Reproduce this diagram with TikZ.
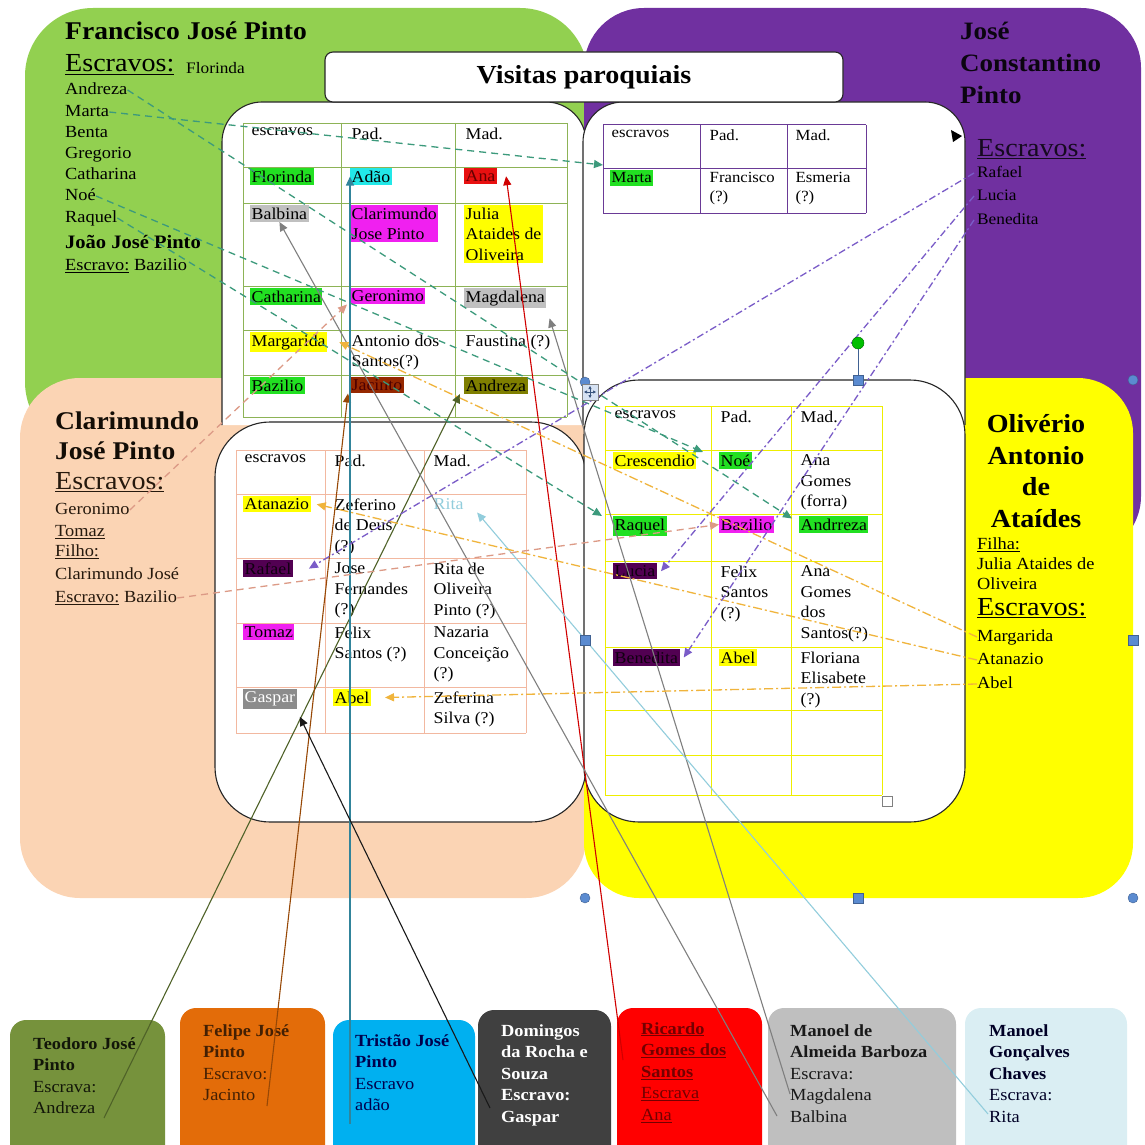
\documentclass[tikz,border=0pt]{standalone}
\usepackage{fontspec}
\setmainfont[FakeStretch=1.08]{Liberation Serif}
\usetikzlibrary{arrows.meta}

\newcommand\fsz[2]{\fontsize{#1}{#2}\selectfont}

\definecolor{bgGreen}{HTML}{92D050}
\definecolor{bgPurple}{HTML}{7030A0}
\definecolor{bgPeach}{HTML}{FBD4B4}
\definecolor{bgYellow}{HTML}{FFFF00}
\definecolor{hlGreen}{HTML}{22E022}
\definecolor{hlCyan}{HTML}{22E8E8}
\definecolor{hlRed}{HTML}{E81010}
\definecolor{hlGray}{HTML}{C0C0C0}
\definecolor{hlMagenta}{HTML}{F020F0}
\definecolor{hlYellow}{HTML}{FFFF00}
\definecolor{hlBrown}{HTML}{962800}
\definecolor{hlOlive}{HTML}{7F7F00}
\definecolor{hlPlum}{HTML}{520052}
\definecolor{hlSlate}{HTML}{8C8C8C}
\definecolor{gridGreen}{HTML}{8DB356}
\definecolor{gridPurple}{HTML}{6A3A96}
\definecolor{gridSalmon}{HTML}{F2B8A0}
\definecolor{gridYellow}{HTML}{EEEE00}
\definecolor{boxTeo}{HTML}{76923C}
\definecolor{boxFel}{HTML}{E36C09}
\definecolor{boxTri}{HTML}{00B0F0}
\definecolor{boxDom}{HTML}{404040}
\definecolor{boxRic}{HTML}{FF0000}
\definecolor{boxMab}{HTML}{BFBFBF}
\definecolor{boxMgc}{HTML}{DAEEF3}
\definecolor{lnTeo}{HTML}{4F6228}
\definecolor{lnFel}{HTML}{974806}
\definecolor{lnTri}{HTML}{31849B}
\definecolor{lnRic}{HTML}{D00000}
\definecolor{lnMab}{HTML}{7F7F7F}
\definecolor{lnMgc}{HTML}{92CDDC}
\definecolor{lnFran}{HTML}{3C9A7C}
\definecolor{lnJcp}{HTML}{7A5CC8}
\definecolor{lnOli}{HTML}{F0B43C}
\definecolor{lnClar}{HTML}{DC9A86}
\definecolor{handle}{HTML}{5B8BD0}

\begin{document}
\begin{tikzpicture}[x=1pt,y=-1pt,
  boxline/.style={draw=black!85, line width=1.1pt},
  cell/.style={anchor=north west, inner xsep=1.5pt, inner ysep=2.5pt, align=left, font=\fsz{16.5}{20.5}},
  tcell/.style={cell, font=\fsz{15.5}{19}},
  lbl/.style={anchor=west, inner sep=0pt},
  item/.style={lbl, font=\fsz{17}{20}, text height=12pt, text depth=3.5pt},
  bname/.style={lbl, font=\bfseries\fsz{25.5}{30}, text height=18pt, text depth=5pt},
  escr/.style={lbl, font=\fsz{26}{30}, text height=18pt, text depth=6pt},
  panelbox/.style={rounded corners=16},
  paneltext/.style={anchor=north west, inner sep=0pt, align=left, font=\fsz{17}{21.6}},
  tip/.style={-{Triangle[length=9pt,width=8pt]}},
  ownerline/.style={tip, line width=1.1pt},
  franline/.style={tip, lnFran, line width=1.3pt, dash pattern=on 7pt off 5pt},
  jcpline/.style={tip, lnJcp, line width=1.3pt, dash pattern=on 7pt off 3pt on 2pt off 3pt},
  oliline/.style={tip, lnOli, line width=1.3pt, dash pattern=on 9pt off 3pt on 2pt off 3pt},
  clarline/.style={tip, lnClar, line width=1.3pt, dash pattern=on 7pt off 5pt},
  hcirc/.style={circle, fill=handle, draw=handle!70!black, line width=0.4pt, minimum size=10pt, inner sep=0pt},
  hsq/.style={rectangle, fill=handle, draw=handle!70!black, line width=0.4pt, minimum size=10pt, inner sep=0pt}
]
\useasboundingbox (0,0) rectangle (1144,1145);
\clip (0,0) rectangle (1144,1145);

% ---------- owner areas ----------
\fill[bgGreen, rounded corners=68] (25,8) rectangle (588,450);
\fill[bgPurple, rounded corners=60] (584,8) rectangle (1141,556);
\fill[bgPeach, rounded corners=60] (20,378) rectangle (586,898);
\fill[bgYellow, rounded corners=55] (584,378) rectangle (1133,898);

% ---------- white record panels ----------
\fill[white] (222,425) [rounded corners=40] -- (222,102) -- (586,102) [sharp corners] -- (586,425) -- cycle;
\draw[boxline] (222,425) [rounded corners=40] -- (222,102) -- (586,102) [sharp corners] -- (586,425);
\fill[white] (583,425) [rounded corners=40] -- (583,102) -- (965,102) [sharp corners] -- (965,425) -- cycle;
\draw[boxline] (583,425) [rounded corners=40] -- (583,102) -- (965,102) [sharp corners] -- (965,425);
\filldraw[boxline, fill=white, rounded corners=55] (215,422) rectangle (586,822);
\filldraw[boxline, fill=white, rounded corners=55] (584,380) rectangle (965,822);
\filldraw[boxline, fill=white, rounded corners=8] (325,52) rectangle (843,102);
\node[font=\bfseries\fsz{26}{30}] (title) at (584,77) {Visitas paroquiais};

% ---------- table grids ----------
\foreach \x in {243,341,455,567} \draw[gridGreen, line width=0.8pt] (\x,123) -- (\x,417);
\foreach \y in {123,167,203,286,330,375,417} \draw[gridGreen, line width=0.8pt] (243,\y) -- (567,\y);
\foreach \x in {603,700,787,866} \draw[gridPurple, line width=1pt] (\x,125) -- (\x,213);
\foreach \y in {125,168,213} \draw[gridPurple, line width=1pt] (603,\y) -- (866,\y);
\foreach \x in {236,325,424,526} \draw[gridSalmon, line width=0.8pt] (\x,450) -- (\x,733);
\foreach \y in {450,494,558,623,687,733} \draw[gridSalmon, line width=0.8pt] (236,\y) -- (526,\y);
\foreach \x in {605,711,791,882} \draw[gridYellow, line width=1pt] (\x,406) -- (\x,795);
\foreach \y in {406,450,514,561,647,710,755,795} \draw[gridYellow, line width=1pt] (605,\y) -- (882,\y);
\draw[gray, line width=0.8pt] (882,796) rectangle (892,806);

% ---------- Francisco's visit table ----------
\node[cell] (tl-h1) at (250,125) {escravos};
\node[cell] (tl-h2) at (350,125) {Pad.};
\node[cell] (tl-h3) at (464,125) {Mad.};
\node[cell, fill=hlGreen] (tl-florinda) at (250,168) {Florinda};
\node[cell, fill=hlCyan] (tl-adao) at (350,168) {Adão};
\node[cell, fill=hlRed, text=black!60!red] (tl-ana) at (464,168) {Ana};
\node[cell, fill=hlGray] (tl-balbina) at (250,205) {Balbina};
\node[cell, fill=hlMagenta] (tl-clarimundo) at (350,205) {Clarimundo\\Jose Pinto};
\node[cell, fill=hlYellow] (tl-julia) at (464,205) {Julia\\Ataides de\\Oliveira};
\node[cell, fill=hlGreen] (tl-catharina) at (250,288) {Catharina};
\node[cell, fill=hlMagenta] (tl-geronimo) at (350,288) {Geronimo};
\node[cell, fill=hlGray] (tl-magdalena) at (464,288) {Magdalena};
\node[cell, fill=hlYellow] (tl-margarida) at (250,332) {Margarida};
\node[cell] (tl-antonio) at (350,332) {Antonio dos\\Santos(?)};
\node[cell] (tl-faustina) at (464,332) {Faustina (?)};
\node[cell, fill=hlGreen] (tl-bazilio) at (250,377) {Bazilio};
\node[cell, fill=hlBrown, text=black!70!red] (tl-jacinto) at (350,377) {Jacinto};
\node[cell, fill=hlOlive] (tl-andreza) at (464,377) {Andreza};

% ---------- José Constantino's visit table ----------
\node[tcell] (tr-h1) at (610,127) {escravos};
\node[tcell] (tr-h2) at (708,127) {Pad.};
\node[tcell] (tr-h3) at (794,127) {Mad.};
\node[tcell, fill=hlGreen] (tr-marta) at (610,170) {Marta};
\node[tcell] (tr-francisco) at (708,170) {Francisco\\(?)};
\node[tcell] (tr-esmeria) at (794,170) {Esmeria\\(?)};

% ---------- Clarimundo's visit table ----------
\node[cell] (bl-h1) at (243,452) {escravos};
\node[cell] (bl-h2) at (333,452) {Pad.};
\node[cell] (bl-h3) at (432,452) {Mad.};
\node[cell, fill=hlYellow] (bl-atanazio) at (243,496) {Atanazio};
\node[cell] (bl-zeferino) at (333,496) {Zeferino\\de Deus\\(?)};
\node[cell, text=lnMgc] (bl-rita) at (432,496) {Rita};
\node[cell, fill=hlPlum, text=black!80!hlPlum] (bl-rafael) at (243,560) {Rafael};
\node[cell] (bl-jose) at (333,560) {Jose\\Fernandes\\(?)};
\node[cell] (bl-ritaop) at (432,560) {Rita de\\Oliveira\\Pinto (?)};
\node[cell, fill=hlMagenta] (bl-tomaz) at (243,624) {Tomaz};
\node[cell] (bl-felix) at (333,624) {Felix\\Santos (?)};
\node[cell] (bl-nazaria) at (432,624) {Nazaria\\Conceição\\(?)};
\node[cell, fill=hlSlate, text=white] (bl-gaspar) at (243,689) {Gaspar};
\node[cell, fill=hlYellow] (bl-abel) at (333,689) {Abel};
\node[cell] (bl-zeferina) at (432,689) {Zeferina\\Silva (?)};

% ---------- Olivério's visit table ----------
\node[cell] (br-h1) at (613,408) {escravos};
\node[cell] (br-h2) at (719,408) {Pad.};
\node[cell] (br-h3) at (799,408) {Mad.};
\node[cell, fill=hlYellow] (br-crescendio) at (613,452) {Crescendio};
\node[cell, fill=hlGreen] (br-noe) at (719,452) {Noé};
\node[cell] (br-anagomes) at (799,452) {Ana\\Gomes\\(forra)};
\node[cell, fill=hlGreen] (br-raquel) at (613,516) {Raquel};
\node[cell, fill=hlMagenta] (br-bazilio) at (719,516) {Bazilio};
\node[cell, fill=hlGreen] (br-andrreza) at (799,516) {Andrreza};
\node[cell, fill=hlPlum, text=black!80!hlPlum] (br-lucia) at (613,563) {Lucia};
\node[cell] (br-felix) at (719,563) {Felix\\Santos\\(?)};
\node[cell] (br-anados) at (799,563) {Ana\\Gomes\\dos\\Santos(?)};
\node[cell, fill=hlPlum, text=black!80!hlPlum] (br-benedita) at (613,649) {Benedita};
\node[cell, fill=hlYellow] (br-abel) at (719,649) {Abel};
\node[cell] (br-floriana) at (799,649) {Floriana\\Elisabete\\(?)};

% ---------- Francisco José Pinto ----------
\node[bname] (fj-name) at (65,33) {Francisco José Pinto};
\node[escr] (fj-esc) at (65,66) {\underline{Escravos:}};
\node[item, font=\fsz{16}{20}] (fj-florinda) at (186,69) {Florinda};
\node[item] (fj-andreza) at (65,90) {Andreza};
\node[item] (fj-marta) at (65,112) {Marta};
\node[item] (fj-benta) at (65,133) {Benta};
\node[item] (fj-gregorio) at (65,154) {Gregorio};
\node[item] (fj-catharina) at (65,175) {Catharina};
\node[item] (fj-noe) at (65,196) {Noé};
\node[item] (fj-raquel) at (65,218) {Raquel};
\node[lbl, font=\bfseries\fsz{19}{22}] (fj-joao) at (65,242) {João José Pinto};
\node[item] (fj-bazilio) at (65,266) {\underline{Escravo:} Bazilio};

% ---------- José Constantino Pinto ----------
\node[bname, font=\bfseries\fsz{25}{30}, text=black!90!bgPurple] (jcp-n1) at (960,33) {José};
\node[bname, font=\bfseries\fsz{25}{30}, text=black!90!bgPurple] (jcp-n2) at (960,65) {Constantino};
\node[bname, font=\bfseries\fsz{25}{30}, text=black!90!bgPurple] (jcp-n3) at (960,97) {Pinto};
\node[escr, text=black!80!bgPurple] (jcp-esc) at (977,150) {\underline{Escravos:}};
\node[item, font=\fsz{16}{18}, text=black] (jcp-rafael) at (977,173) {Rafael};
\node[item, font=\fsz{16}{18}, text=black] (jcp-lucia) at (977,196) {Lucia};
\node[item, font=\fsz{16}{18}, text=black] (jcp-benedita) at (977,220) {Benedita};

% ---------- Clarimundo José Pinto ----------
\node[bname, text=black!90!brown] (cl-n1) at (55,423) {Clarimundo};
\node[bname, text=black!90!brown] (cl-n2) at (55,453) {José Pinto};
\node[escr, text=black!80!brown] (cl-esc) at (55,483) {\underline{Escravos:}};
\node[item, text=black!80!brown] (cl-geronimo) at (55,510) {Geronimo};
\node[item, text=black!80!brown] (cl-tomaz) at (55,532) {\underline{Tomaz}};
\node[item, text=black!80!brown] (cl-filho) at (55,552) {\underline{Filho:}};
\node[item, text=black!80!brown] (cl-son) at (55,575) {Clarimundo José};
\node[item, text=black!80!brown] (cl-bazilio) at (55,598) {\underline{Escravo:} Bazilio};

% ---------- Olivério Antonio de Ataídes ----------
\node[font=\bfseries\fsz{26}{31.7}, align=center, inner sep=0pt] (ov-name) at (1036,471) {Olivério\\Antonio\\de\\Ataídes};
\node[item] (ov-filha) at (977,545) {\underline{Filha:}};
\node[item] (ov-julia) at (977,565) {Julia Ataides de};
\node[item] (ov-oliveira) at (977,585) {Oliveira};
\node[escr] (ov-esc) at (977,609) {\underline{Escravos:}};
\node[item] (ov-margarida) at (977,637) {Margarida};
\node[item] (ov-atanazio) at (977,660) {Atanazio};
\node[item] (ov-abel) at (977,684) {Abel};

% ---------- owners of the godparents' slaves ----------
\fill[boxTeo, panelbox] (10,1020) rectangle (165,1175);
\node[paneltext, text=black!85!boxTeo] (p-teo) at (33,1037) {\textbf{Teodoro José}\\\textbf{Pinto}\\Escrava:\\Andreza};
\fill[boxFel, panelbox] (180,1008) rectangle (325,1175);
\node[paneltext, text=black!70!boxFel] (p-fel) at (203,1024) {\textbf{Felipe José}\\\textbf{Pinto}\\Escravo:\\Jacinto};
\fill[boxTri, panelbox] (333,1020) rectangle (475,1175);
\node[paneltext, text=black!70!blue] (p-tri) at (355,1034) {\textbf{Tristão José}\\\textbf{Pinto}\\Escravo\\adão};
\fill[boxDom, panelbox] (478,1010) rectangle (611,1175);
\node[paneltext, text=white, font=\bfseries\fsz{17}{21.6}] (p-dom) at (501,1024) {Domingos\\da Rocha e\\Souza\\Escravo:\\Gaspar};
\fill[boxRic, panelbox] (617,1008) rectangle (762,1175);
\node[paneltext, text=black!55!red] (p-ric) at (641,1022) {\textbf{\underline{Ricardo}}\\\textbf{\underline{Gomes dos}}\\\textbf{\underline{Santos}}\\\underline{Escrava}\\\underline{Ana}};
\fill[boxMab, panelbox] (768,1008) rectangle (956,1175);
\node[paneltext, text=black!90] (p-mab) at (790,1024) {\textbf{Manoel de}\\\textbf{Almeida Barboza}\\Escrava:\\Magdalena\\Balbina};
\fill[boxMgc, panelbox] (965,1008) rectangle (1127,1175);
\node[paneltext, text=black!85!blue] (p-mgc) at (989,1024) {\textbf{Manoel}\\\textbf{Gonçalves}\\\textbf{Chaves}\\Escrava:\\Rita};

% line ends inside the owner panels
\coordinate (teo-tail) at (104,1118);
\coordinate (fel-tail) at (267,1106);
\coordinate (tri-tail) at (350,1124);
\coordinate (dom-tail) at (490,1108);
\coordinate (ric-tail) at (623,1060);
\coordinate (mab-tail1) at (790,1094);
\coordinate (mab-tail2) at (777,1116);
\coordinate (mgc-tail) at (988,1114);

% ---------- owner -> slave links ----------
\draw[ownerline, lnTeo] (teo-tail) -- ([xshift=-4pt]tl-andreza.south west);
\draw[ownerline, lnFel] (fel-tail) -- ([xshift=-2pt]tl-jacinto.south west);
\draw[ownerline, lnTri] (tri-tail) -- (tri-tail |- tl-adao.west);
\draw[ownerline, black!90] (dom-tail) -- ([shift={(3,8)}]bl-gaspar.south east);
\draw[ownerline, lnRic] (ric-tail) -- ([xshift=9pt]tl-ana.east);
\draw[ownerline, lnMab] (mab-tail1) -- ([shift={(3,10)}]tl-magdalena.south east);
\draw[ownerline, lnMab] (mab-tail2) -- (tl-balbina.south);
\draw[ownerline, lnMgc] (mgc-tail) -- ([shift={(12,0)}]bl-rita.south east);

% ---------- Francisco's slaves ----------
\draw[franline] (fj-marta.east) -- ([shift={(-7,-5)}]tr-marta.north west);
\draw[franline] (fj-andreza.east) -- ([shift={(-7,-6)}]br-andrreza.west);
\draw[franline] (fj-noe.east) -- ([xshift=-16pt]br-noe.north west);
\draw[franline] (fj-raquel.east) -- ([xshift=-11pt]br-raquel.north west);

% ---------- Clarimundo's slaves ----------
\draw[clarline] (cl-geronimo.east) -- ([xshift=-3pt]tl-geronimo.south west);
\draw[clarline] (cl-bazilio.east) -- (br-bazilio.west);

% ---------- Olivério's slaves ----------
\draw[oliline] (ov-margarida.west) -- ([xshift=12pt]tl-margarida.east);
\draw[oliline] (ov-atanazio.west) -- ([xshift=6pt]bl-atanazio.east);
\draw[oliline] (ov-abel.west) -- ([xshift=14pt]bl-abel.east);

% ---------- José Constantino's slaves ----------
\draw[jcpline] ([xshift=-3pt]jcp-rafael.west) -- ([xshift=16pt]bl-rafael.east);
\draw[jcpline] ([xshift=-3pt]jcp-lucia.west) -- ([xshift=4pt]br-lucia.east);
\draw[jcpline] ([xshift=-3pt]jcp-benedita.west) -- ([xshift=4pt]br-benedita.east);

% small black tip at the top panel edge
\fill[black] (951,130) -- (962,136) -- (953,142) -- cycle;

% ---------- selection handles ----------
\draw[handle!70!black, line width=0.8pt] (858,349) -- (858,376);
\node[circle, fill=green!75!black, draw=green!40!black, line width=0.4pt, minimum size=12pt, inner sep=0pt] (h-rot) at (858,343) {};
\node[hsq] (h-tc) at (858,380) {};
\node[hcirc] (h-tr) at (1133,380) {};
\node[hsq] (h-mr) at (1133,640) {};
\node[hcirc] (h-br) at (1133,898) {};
\node[hsq] (h-bc) at (858,898) {};
\node[hcirc] (h-bl) at (585,898) {};
\node[hsq] (h-ml) at (585,640) {};
\node[hcirc] (h-tl) at (585,382) {};
% move cursor
\node[rectangle, fill=handle!25, draw=gray, line width=0.5pt, minimum size=16pt, inner sep=0pt] (h-move) at (590,392) {};
\draw[handle!60!black, line width=0.7pt, {Triangle[length=3pt,width=3pt]}-{Triangle[length=3pt,width=3pt]}] ([xshift=-6pt]h-move.center) -- ([xshift=6pt]h-move.center);
\draw[handle!60!black, line width=0.7pt, {Triangle[length=3pt,width=3pt]}-{Triangle[length=3pt,width=3pt]}] ([yshift=-6pt]h-move.center) -- ([yshift=6pt]h-move.center);
\end{tikzpicture}
\end{document}
